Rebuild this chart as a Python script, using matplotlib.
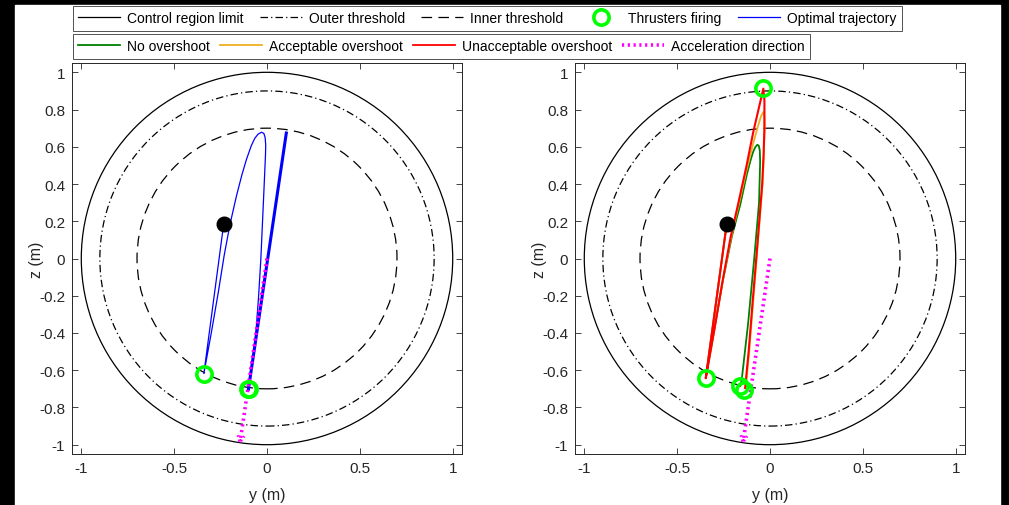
import matplotlib
matplotlib.use("Agg")
import matplotlib.pyplot as plt
from matplotlib.lines import Line2D
from matplotlib.patches import Circle, Rectangle

plt.rcParams['font.family'] = ['Liberation Sans', 'DejaVu Sans']
plt.rcParams['axes.unicode_minus'] = False

# ---- data ----
radii = [1.0, 0.9, 0.7]          # control limit, outer threshold, inner threshold
start_point = (-0.233, 0.187)
accel_y = [0.0, -0.145]
accel_z = [0.0, -0.987]
accel_head_y = [-0.157, -0.145, -0.123]
accel_head_z = [-0.949, -0.987, -0.954]

# left panel: optimal trajectory
opt_y = [-0.233, -0.340, -0.300, -0.262, -0.230, -0.200, -0.165, -0.135, -0.111,
         -0.085, -0.066, -0.048, -0.030, -0.017, -0.010, -0.007, -0.008, -0.015,
         -0.024, -0.033, -0.045, -0.060, -0.078, -0.100]
opt_z = [0.187, -0.618, -0.400, -0.180, 0.020, 0.180, 0.334, 0.450, 0.531,
         0.605, 0.645, 0.668, 0.678, 0.672, 0.650, 0.610, 0.560, 0.400,
         0.200, 0.000, -0.200, -0.400, -0.560, -0.702]
drift_y = [-0.100, 0.104]
drift_z = [-0.702, 0.674]
opt_fire_y = [-0.340, -0.100, -0.098]
opt_fire_z = [-0.618, -0.702, -0.699]

# right panel: three overshoot cases
green_y = [-0.233, -0.346, -0.300, -0.254, -0.205, -0.160, -0.125, -0.104, -0.090,
           -0.078, -0.068, -0.060, -0.055, -0.053, -0.055, -0.059, -0.085, -0.118,
           -0.152, -0.160]
green_z = [0.187, -0.643, -0.380, -0.120, 0.120, 0.290, 0.450, 0.530, 0.575,
           0.600, 0.611, 0.605, 0.580, 0.520, 0.450, 0.300, 0.000, -0.350,
           -0.649, -0.685]
orange_y = [-0.233, -0.346, -0.300, -0.255, -0.208, -0.166, -0.125, -0.090, -0.065,
            -0.048, -0.036, -0.030, -0.029, -0.033, -0.040, -0.048, -0.068, -0.092,
            -0.112, -0.130]
orange_z = [0.187, -0.643, -0.380, -0.120, 0.120, 0.300, 0.480, 0.620, 0.710,
            0.765, 0.787, 0.760, 0.700, 0.550, 0.400, 0.300, 0.050, -0.250,
            -0.500, -0.690]
red_y = [-0.233, -0.346, -0.300, -0.256, -0.212, -0.170, -0.128, -0.090, -0.062,
         -0.036, -0.030, -0.030, -0.035, -0.042, -0.050, -0.070, -0.095, -0.115,
         -0.134]
red_z = [0.187, -0.643, -0.385, -0.125, 0.115, 0.300, 0.490, 0.680, 0.800,
         0.912, 0.850, 0.700, 0.550, 0.400, 0.300, 0.050, -0.250, -0.500,
         -0.695]
case_fire_y = [-0.036, -0.346, -0.161, -0.138]
case_fire_z = [0.915, -0.643, -0.685, -0.706]

y_ticks = [-1, -0.5, 0, 0.5, 1]
y_tick_labels = ['-1', '-0.5', '0', '0.5', '1']
z_ticks = [-1, -0.8, -0.6, -0.4, -0.2, 0, 0.2, 0.4, 0.6, 0.8, 1]
z_tick_labels = ['-1', '-0.8', '-0.6', '-0.4', '-0.2', '0', '0.2', '0.4', '0.6', '0.8', '1']

# ---- styles ----
c_green = (0, 0.5, 0)
c_orange = (0.93, 0.69, 0.13)
c_fire = (0, 1, 0)
c_axis = (0.15, 0.15, 0.15)
circle_styles = ['-', (0, (6, 2.5, 1, 2.5)), (0, (8.5, 5))]

fig = plt.figure(figsize=(10.09, 5.06), dpi=100, facecolor='black')
fig.patches.append(Rectangle((15 / 1009, 0), 985 / 1009, 500 / 506,
                             transform=fig.transFigure, color='white', zorder=-1))

ax1 = fig.add_axes([72 / 1009, 51 / 506, 390 / 1009, 391 / 506])
ax2 = fig.add_axes([575 / 1009, 51 / 506, 390 / 1009, 391 / 506])


def base_panel(ax):
    for r, ls in zip(radii, circle_styles):
        ax.add_patch(Circle((0, 0), r, fill=False, ec='black', lw=0.9, ls=ls))
    ax.set_xlim(-1.05, 1.05)
    ax.set_ylim(-1.05, 1.05)
    ax.set_xticks(y_ticks)
    ax.set_xticklabels(y_tick_labels)
    ax.set_yticks(z_ticks)
    ax.set_yticklabels(z_tick_labels)
    ax.tick_params(direction='in', top=True, right=True, length=4, width=0.6,
                   colors=c_axis, labelsize=11, pad=5)
    for s in ax.spines.values():
        s.set_color(c_axis)
        s.set_linewidth(0.7)
    ax.set_xlabel('y (m)', fontsize=11.5, color=c_axis, labelpad=9)
    ax.set_ylabel('z (m)', fontsize=11.5, color=c_axis, va='center')
    ax.yaxis.set_label_coords(-0.09, 0.5)


def accel_arrow(ax):
    ax.plot(accel_y, accel_z, color='magenta', lw=2.6, ls=(0, (0.6, 1.0)), zorder=4)
    ax.plot(accel_head_y, accel_head_z, color='magenta', lw=2.0, ls=(0, (0.6, 1.0)), zorder=4)


base_panel(ax1)
ax1.plot(opt_y, opt_z, color='blue', lw=0.9, zorder=3)
ax1.plot(drift_y, drift_z, color='blue', lw=2.2, zorder=3)
accel_arrow(ax1)
ax1.plot(opt_fire_y, opt_fire_z, 'o', mfc='none', mec=c_fire, ms=11, mew=2.6, zorder=5)
ax1.plot(*start_point, 'o', color='black', ms=10.5, zorder=5)

base_panel(ax2)
ax2.plot(green_y, green_z, color=c_green, lw=1.3, zorder=3)
ax2.plot(orange_y, orange_z, color=c_orange, lw=1.3, zorder=3)
ax2.plot(red_y, red_z, color='red', lw=1.5, zorder=3)
accel_arrow(ax2)
ax2.plot(case_fire_y, case_fire_z, 'o', mfc='none', mec=c_fire, ms=11, mew=2.6, zorder=5)
ax2.plot(*start_point, 'o', color='black', ms=10.5, zorder=5)

# ---- legends ----
row1 = [Line2D([], [], color='black', lw=0.9),
        Line2D([], [], color='black', lw=0.9, ls=circle_styles[1]),
        Line2D([], [], color='black', lw=0.9, ls=circle_styles[2]),
        Line2D([], [], ls='none', marker='o', mfc='none', mec=c_fire, ms=11, mew=2.6),
        Line2D([], [], color='blue', lw=0.9)]
row1_labels = ['Control region limit', 'Outer threshold', 'Inner threshold',
               'Thrusters firing', 'Optimal trajectory']
row2 = [Line2D([], [], color=c_green, lw=1.3),
        Line2D([], [], color=c_orange, lw=1.3),
        Line2D([], [], color='red', lw=1.3),
        Line2D([], [], color='magenta', lw=2.6, ls=(0, (0.6, 1.0)))]
row2_labels = ['No overshoot', 'Acceptable overshoot', 'Unacceptable overshoot',
               'Acceleration direction']

for handles, labels, top, gap in [(row1, row1_labels, 1 - 7 / 506, 1.2),
                                  (row2, row2_labels, 1 - 35 / 506, 0.75)]:
    leg = fig.legend(handles, labels, loc='upper left', bbox_to_anchor=(73 / 1009, top),
                     ncol=len(handles), fontsize=10, frameon=True, fancybox=False,
                     handlelength=3.0, handletextpad=0.5, columnspacing=gap,
                     borderpad=0.38, borderaxespad=0)
    leg.get_frame().set_edgecolor(c_axis)
    leg.get_frame().set_linewidth(0.7)

fig.savefig('out.png', dpi=100, facecolor=fig.get_facecolor())
